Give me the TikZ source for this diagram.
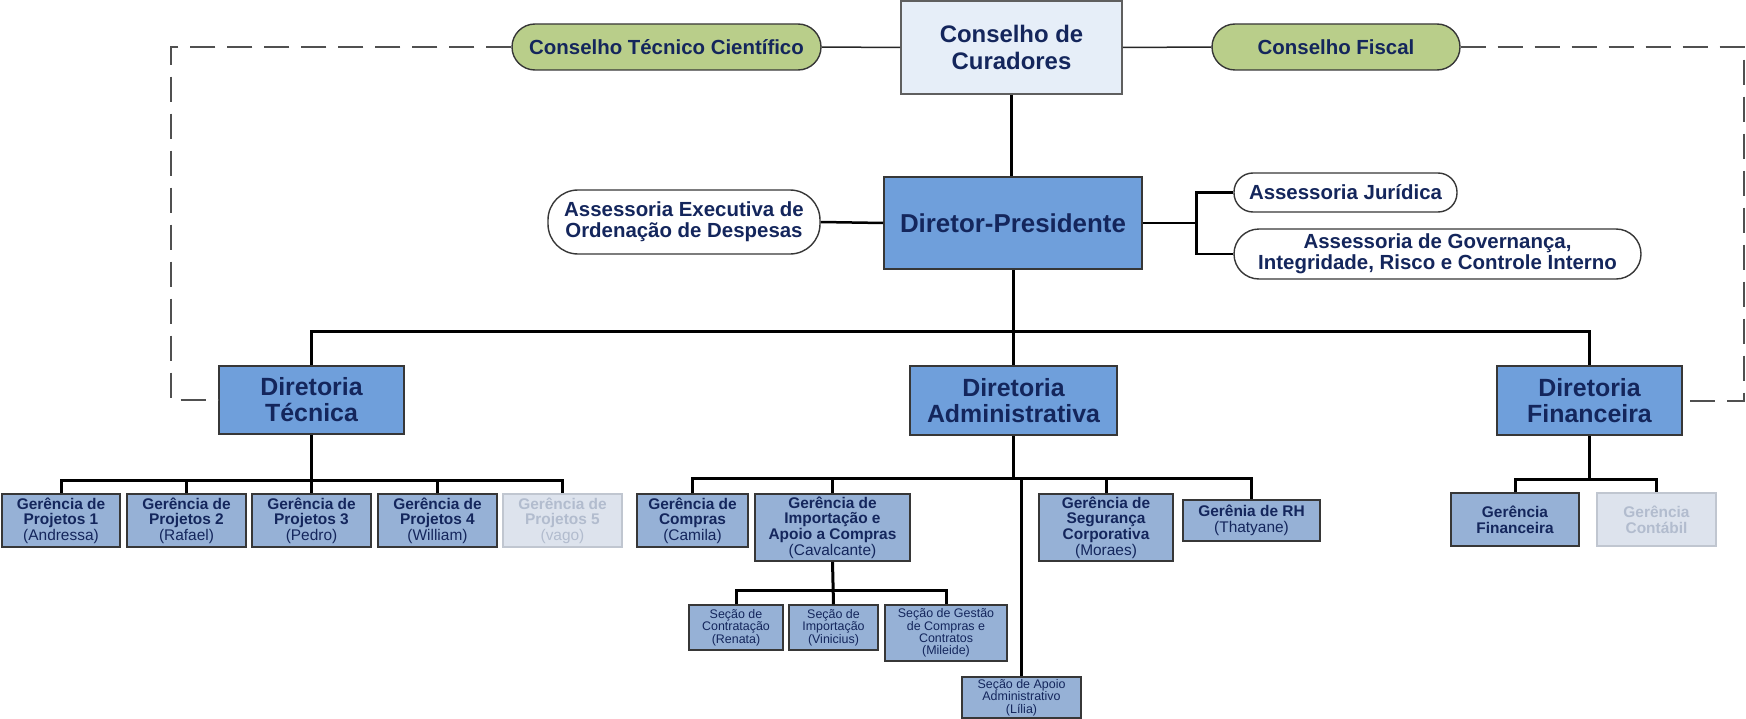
\documentclass[tikz,border=0pt]{standalone}
\usepackage{fontspec}
\setmainfont{Liberation Sans}
\definecolor{navy}{RGB}{20,38,92}
\definecolor{bordc}{RGB}{55,55,55}
\definecolor{mainblue}{RGB}{111,159,219}
\definecolor{gerblue}{RGB}{150,177,214}
\definecolor{ccfill}{RGB}{230,238,248}
\definecolor{greenf}{RGB}{185,206,138}
\definecolor{vagofill}{RGB}{221,227,237}
\definecolor{vagodraw}{RGB}{192,198,208}
\definecolor{vagotext}{RGB}{178,188,206}
\definecolor{dashc}{RGB}{80,80,80}
\newcommand{\nm}[1]{{\mdseries #1}}
\tikzset{
  base/.style={draw=bordc, line width=1.6bp, inner sep=0pt, align=center, text=navy},
  ccbox/.style={base, fill=ccfill, draw=bordc!80, font=\fontsize{24}{27}\selectfont\bfseries},
  dpbox/.style={base, fill=mainblue, font=\fontsize{26}{30}\selectfont\bfseries},
  dirbox/.style={base, fill=mainblue, font=\fontsize{25}{26}\selectfont\bfseries},
  pill/.style={base, line width=1.4bp, font=\fontsize{20.5}{21}\selectfont\bfseries},
  gpill/.style={pill, fill=greenf, rounded corners=23bp},
  wpill/.style={pill, fill=white},
  gerbox/.style={base, fill=gerblue, font=\fontsize{15.5}{15.7}\selectfont\bfseries},
  vagobox/.style={base, fill=vagofill, draw=vagodraw, text=vagotext, font=\fontsize{15.5}{15.7}\selectfont\bfseries},
  secbox/.style={base, fill=gerblue, line width=1.4bp, font=\fontsize{12.5}{12.5}\selectfont},
  conn/.style={line width=3bp, black},
  thinconn/.style={line width=1.5bp, black!85},
  dashline/.style={line width=2bp, dashc, dash pattern=on 25bp off 12bp},
}
\begin{document}
\begin{tikzpicture}[x=1bp,y=-1bp]
\useasboundingbox (0,0) rectangle (1746,719);

% top level
\node[ccbox, minimum width=221bp, minimum height=93bp] (cc) at (1011.5,47.5) {Conselho de\\Curadores};
\node[gpill, minimum width=309bp, minimum height=46bp] (ctc) at (666.5,47) {Conselho Técnico Científico};
\node[gpill, minimum width=248bp, minimum height=46bp] (cf) at (1336,47) {Conselho Fiscal};

\node[dpbox, minimum width=258bp, minimum height=92bp] (dp) at (1013,223) {Diretor-Presidente};
\node[wpill, rounded corners=30bp, minimum width=272bp, minimum height=64bp] (aex) at (684,222) {Assessoria Executiva de\\Ordenação de Despesas};
\node[wpill, rounded corners=19bp, minimum width=223bp, minimum height=39bp] (aj) at (1345.5,192.5) {Assessoria Jurídica};
\node[wpill, rounded corners=25bp, minimum width=407bp, minimum height=50bp] (ag) at (1437.5,254) {Assessoria de Governança,\\Integridade, Risco e Controle Interno};

% diretorias
\node[dirbox, minimum width=185bp, minimum height=68bp] (dt) at (311.5,400) {Diretoria\\Técnica};
\node[dirbox, minimum width=207bp, minimum height=69bp] (da) at (1013.5,400.5) {Diretoria\\Administrativa};
\node[dirbox, minimum width=185bp, minimum height=69bp] (df) at (1589.5,400.5) {Diretoria\\Financeira};

% gerencias tecnica
\node[gerbox, minimum width=118bp, minimum height=53bp] (gp1) at (61,520.5) {Gerência de\\Projetos 1\\\nm{(Andressa)}};
\node[gerbox, minimum width=119bp, minimum height=53bp] (gp2) at (186.5,520.5) {Gerência de\\Projetos 2\\\nm{(Rafael)}};
\node[gerbox, minimum width=119bp, minimum height=53bp] (gp3) at (311.5,520.5) {Gerência de\\Projetos 3\\\nm{(Pedro)}};
\node[gerbox, minimum width=119bp, minimum height=53bp] (gp4) at (437.5,520.5) {Gerência de\\Projetos 4\\\nm{(William)}};
\node[vagobox, minimum width=119bp, minimum height=53bp] (gp5) at (562.5,520.5) {Gerência de\\Projetos 5\\\nm{(vago)}};

% gerencias administrativa
\node[gerbox, minimum width=111bp, minimum height=53bp] (gc) at (692.5,520.5) {Gerência de\\Compras\\\nm{(Camila)}};
\node[gerbox, minimum width=155bp, minimum height=67bp] (gi) at (832.5,527.5) {Gerência de\\Importação e\\Apoio a Compras\\\nm{(Cavalcante)}};
\node[gerbox, minimum width=134bp, minimum height=67bp] (gs) at (1106,527.5) {Gerência de\\Segurança\\Corporativa\\\nm{(Moraes)}};
\node[gerbox, minimum width=137bp, minimum height=41bp] (grh) at (1251.5,520.5) {Gerênia de RH\\\nm{(Thatyane)}};

% secoes
\node[secbox, minimum width=94bp, minimum height=45bp] (sc) at (736,627.5) {Seção de\\Contratação\\(Renata)};
\node[secbox, minimum width=89bp, minimum height=45bp] (si) at (833.5,627.5) {Seção de\\Importação\\(Vinicius)};
\node[secbox, minimum width=122bp, minimum height=56bp] (sg) at (946,633) {Seção de Gestão\\de Compras e\\Contratos\\(Mileide)};
\node[secbox, minimum width=119bp, minimum height=41bp] (sa) at (1021.5,697.5) {Seção de Apoio\\Administrativo\\(Lília)};

% gerencias financeira
\node[gerbox, minimum width=128bp, minimum height=53bp] (gf) at (1515,519.5) {Gerência\\Financeira};
\node[vagobox, minimum width=119bp, minimum height=53bp] (gco) at (1656.5,519.5) {Gerência\\Contábil};

% coordinates for bars
\coordinate (topbar) at (1013,331);
\coordinate (tbar) at (312,480);
\coordinate (abar) at (1013,478);
\coordinate (sbar) at (833,590);
\coordinate (fbar) at (1589,479);
\coordinate (lx) at (171,0);
\coordinate (rx) at (1744,0);

% connectors top
\draw[thinconn] (ctc.east) -- (cc.west);
\draw[thinconn] (cf.west) -- (cc.east);
\draw[line width=2.5bp] (cc.south) -- (cc.south |- dp.north);
\draw[line width=2.5bp] (aex.east) -- (dp.west);
\draw[line width=2.5bp] (dp.east) -- ++(55,0);
\draw[line width=2.5bp] (aj.west) -- ++(-37,0) |- (ag.west);

% dashed
\draw[dashline] (ctc.west) -- (ctc.west -| lx) |- (dt.west);
\draw[dashline] (cf.east) -- (cf.east -| rx) |- (df.east);

% top bar
\draw[conn] (dp.south) -- (dp.south |- da.north);
\draw[conn] (dt.north) -- (dt.north |- topbar) -- (df.north |- topbar) -- (df.north);

% tecnica
\draw[conn] (dt.south) -- (dt.south |- tbar);
\draw[conn] (gp1.north) -- (gp1.north |- tbar) -- (gp5.north |- tbar) -- (gp5.north);
\draw[conn] (gp2.north) -- (gp2.north |- tbar);
\draw[conn] (gp3.north) -- (gp3.north |- tbar);
\draw[conn] (gp4.north) -- (gp4.north |- tbar);

% administrativa
\draw[conn] (da.south) -- (da.south |- abar);
\draw[conn] (gc.north) -- (gc.north |- abar) -- (grh.north |- abar) -- (grh.north);
\draw[conn] (gi.north) -- (gi.north |- abar);
\draw[conn] (gs.north) -- (gs.north |- abar);
\draw[conn] (sa.north) -- (sa.north |- abar);

% secoes
\draw[conn] (gi.south) -- (si.north);
\draw[conn] (sc.north) -- (sc.north |- sbar) -- (sg.north |- sbar) -- (sg.north);

% financeira
\draw[conn] (df.south) -- (df.south |- fbar);
\draw[conn] (gf.north) -- (gf.north |- fbar) -- (gco.north |- fbar) -- (gco.north);
\end{tikzpicture}
\end{document}
